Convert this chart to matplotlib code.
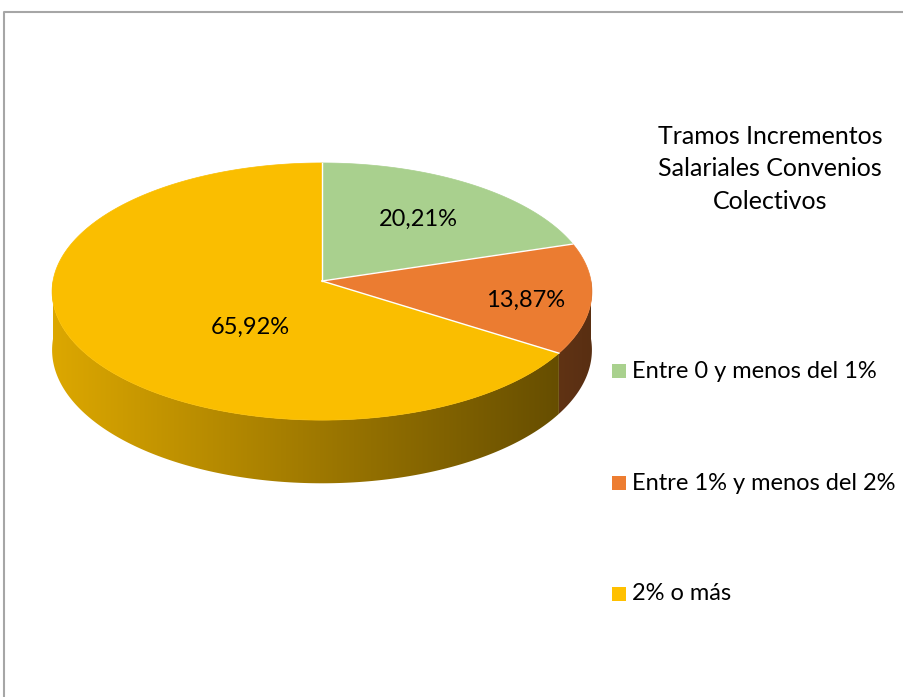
import numpy as np
import matplotlib
matplotlib.use('Agg')
import matplotlib.pyplot as plt
from matplotlib.patches import Polygon, Rectangle
from matplotlib.colors import to_rgb

# Data
categories = ['Entre 0 y menos del 1%', 'Entre 1% y menos del 2%', '2% o más']
values = [20.21, 13.87, 65.92]
labels = ['20,21%', '13,87%', '65,92%']
top_colors = ['#A9D08E', '#EB7C31', '#FABE00']
legend_colors = ['#A9D18E', '#ED7D31', '#FFC000']
title = 'Tramos Incrementos\nSalariales Convenios\nColectivos'

plt.rcParams['font.family'] = ['Lato', 'DejaVu Sans']

W, H = 904, 697
fig = plt.figure(figsize=(W / 100, H / 100), dpi=100)
ax = fig.add_axes([0, 0, 1, 1])
ax.set_xlim(0, W)
ax.set_ylim(H, 0)
ax.axis('off')

# pie geometry (pixels) with a little perspective
cx, cy, rx, ry, depth, persp = 322, 281, 269, 127.7, 58, 0.082


def proj(u, v, down=0.0):
    # u to the right, v towards the back of the disc
    w = 1 + persp * v
    return cx + rx * u / w, cy - ry * v / w + down / w


def pt(t, down=0.0):
    return proj(np.cos(t), np.sin(t), down)


# wedge angles, clockwise from 12 o'clock
fracs = np.array(values) / sum(values)
ends = np.pi / 2 - 2 * np.pi * np.cumsum(fracs)
starts = np.concatenate([[np.pi / 2], ends[:-1]])

# side band: only the front half (-pi..0) is visible
for i in range(len(values)):
    for shift in (-2 * np.pi, 0, 2 * np.pi):
        lo = max(ends[i] + shift, -np.pi)
        hi = min(starts[i] + shift, 0)
        if hi <= lo:
            continue
        tt = np.linspace(lo, hi, 200)
        xt, yt = pt(tt)
        xb, yb = pt(tt[::-1], depth)
        verts = list(zip(xt, yt)) + list(zip(xb, yb))
        poly = Polygon(verts, closed=True, facecolor='none', edgecolor='none')
        ax.add_patch(poly)
        # gradient from lighter left to darker right
        xs = np.linspace(cx - rx - 5, cx + rx + 5, 300)
        f = 0.88 - 0.50 * (xs - (cx - rx)) / (2 * rx)
        grad = np.clip(np.array(to_rgb(top_colors[i]))[None, :] * f[:, None], 0, 1)
        im = ax.imshow(grad[None, :, :],
                       extent=(xs[0], xs[-1], cy + ry * 1.2 + depth * 1.2, cy - ry),
                       aspect='auto', interpolation='bilinear', zorder=1)
        im.set_clip_path(poly)

# top face
for i in range(len(values)):
    tt = np.linspace(starts[i], ends[i], 200)
    xs, ys = pt(tt)
    verts = [proj(0, 0)] + list(zip(xs, ys))
    ax.add_patch(Polygon(verts, closed=True, facecolor=top_colors[i],
                         edgecolor=top_colors[i], lw=0.5, zorder=2))
# white separators between wedges
for a in starts:
    x0, y0 = proj(0, 0)
    x1, y1 = pt(a)
    ax.plot([x0, x1], [y0, y1], color='white', lw=1.0, zorder=3)

# labels (disc coordinates of each label)
label_uv = [(0.372, 0.506), (0.749, -0.147), (-0.260, -0.350)]
for i in range(len(values)):
    lx, ly = proj(*label_uv[i])
    ax.text(lx, ly, labels[i], ha='center', va='center', fontsize=17,
            color='black', zorder=4)

# title
ax.text(770, 169, title, ha='center', va='center', fontsize=18,
        linespacing=1.5, color='black')

# legend
leg_y = [371, 483, 594]
for i in range(len(categories)):
    ax.add_patch(Rectangle((612, leg_y[i] - 7), 14, 14, facecolor=legend_colors[i],
                           edgecolor='none'))
    ax.text(632, leg_y[i], categories[i], ha='left', va='center', fontsize=17,
            color='black')

# border
ax.plot([4.5, 4.5, W], [H, 11.5, 11.5], color='#A6A6A6', lw=1.5)

ax.set_xlim(0, W)
ax.set_ylim(H, 0)
fig.savefig('out.png', dpi=100)
